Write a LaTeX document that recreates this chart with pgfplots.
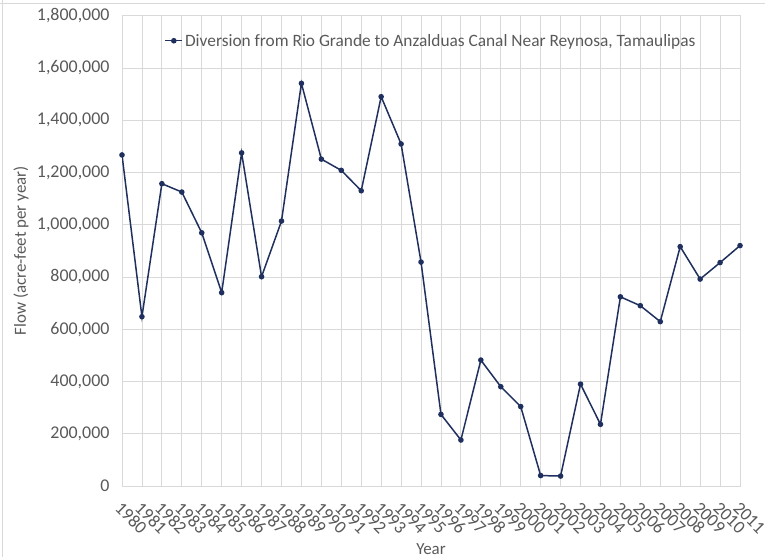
\documentclass[border=0pt]{standalone}
\usepackage{fontspec}
\setmainfont{Carlito}
\usepackage{pgfplots}
\pgfplotsset{compat=1.18}
\definecolor{txt}{HTML}{595959}
\definecolor{grd}{HTML}{D9D9D9}
\definecolor{navy}{HTML}{1F305E}
\begin{document}
\begin{tikzpicture}[x=1bp,y=1bp]
\useasboundingbox (0,0) rectangle (765,557);
\draw[grd, line width=1bp] (2,557) -- (2,0);
\draw[grd, line width=1bp] (0,553) -- (765,553);
\begin{axis}[
  at={(122bp,71bp)}, anchor=south west,
  scale only axis, width=618bp, height=470.3bp,
  xmin=1980, xmax=2011, ymin=0, ymax=1800000,
  xtick={1980,...,2011},
  ytick={0,200000,...,1800000},
  scaled y ticks=false,
  major tick length=0pt,
  grid=major,
  major grid style={grd, line width=0.8bp},
  axis line style={grd, line width=0.8bp},
  tick label style={font=\fontsize{18}{20}\selectfont, text=txt},
  /pgf/number format/assume math mode=true,
  yticklabel style={xshift=-9bp, /pgf/number format/.cd, fixed, 1000 sep={,}},
  xticklabel style={rotate=-45, anchor=north west, xshift=7.5bp, yshift=-6.5bp, /pgf/number format/.cd, 1000 sep={}},
  ylabel={Flow (acre-feet per year)},
  xlabel={Year},
  label style={font=\fontsize{17}{19}\selectfont, text=txt},
  ylabel style={at={(axis description cs:0,0.5)}, anchor=south, yshift=90bp},
  xlabel style={at={(axis description cs:0.5,0)}, anchor=north, yshift=-54bp},
  legend style={at={(0.5,0.97)}, anchor=north, draw=none, fill=none,
    font=\fontsize{17.4}{19}\selectfont, text=txt},
  legend cell align=left,
]
\addplot[navy, line width=1.5bp, mark=*, mark size=2bp] coordinates {
(1980,1267000) (1981,648000) (1982,1157000) (1983,1125000) (1984,969000)
(1985,740000) (1986,1275000) (1987,801000) (1988,1014000) (1989,1541000)
(1990,1251000) (1991,1208000) (1992,1130000) (1993,1490000) (1994,1309000)
(1995,857000) (1996,274000) (1997,176000) (1998,482000) (1999,380000)
(2000,304000) (2001,40000) (2002,38000) (2003,390000) (2004,236000)
(2005,724000) (2006,690000) (2007,629000) (2008,916000) (2009,792000)
(2010,855000) (2011,920000)
};
\addlegendentry{Diversion from Rio Grande to Anzalduas Canal Near Reynosa, Tamaulipas}
\end{axis}
\end{tikzpicture}
\end{document}
